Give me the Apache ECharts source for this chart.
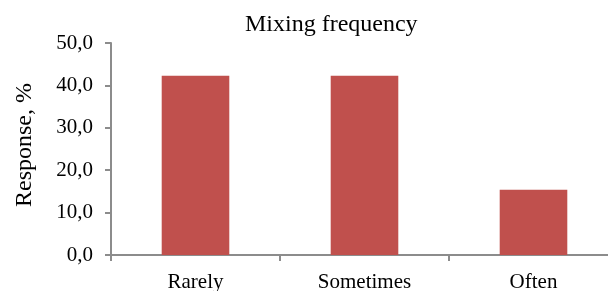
<!DOCTYPE html>
<html>
<head>
<meta charset="utf-8">
<script src="https://cdn.jsdelivr.net/npm/echarts@6/dist/echarts.min.js"></script>
<style>html,body{margin:0;padding:0;background:#fff}#c{width:608px;height:291px}</style>
</head>
<body>
<div id="c"></div>
<script>
var categories = ['Rarely', 'Sometimes', 'Often'];
var responses = [42.3, 42.3, 15.4];
var titleText = 'Mixing frequency';
var yAxisName = 'Response, %';

var font = '"Liberation Serif", "Times New Roman", serif';
var chart = echarts.init(document.getElementById('c'), null, {renderer: 'canvas'});
chart.setOption({
  animation: false,
  backgroundColor: '#fff',
  title: {
    text: titleText, left: 245, top: 13, padding: 0,
    textStyle: {fontFamily: font, fontWeight: 'normal', fontSize: 24, color: '#000'}
  },
  grid: {left: 111, width: 507, top: 43, bottom: 36, containLabel: false, outerBoundsMode: 'none'},
  xAxis: {
    type: 'category', data: categories,
    axisLine: {lineStyle: {color: '#8c8c8c', width: 2}},
    axisTick: {show: true, length: 6, lineStyle: {color: '#8c8c8c', width: 2}},
    axisLabel: {fontFamily: font, fontSize: 21, color: '#000', margin: 17}
  },
  yAxis: {
    type: 'value', min: 0, max: 50, interval: 10,
    name: yAxisName, nameLocation: 'middle', nameGap: 74, nameRotate: 90,
    nameTextStyle: {fontFamily: font, fontSize: 24, color: '#000', padding: [0, 0, 0, 8]},
    axisLine: {show: true, lineStyle: {color: '#8c8c8c', width: 2}},
    axisTick: {show: true, length: 6, lineStyle: {color: '#8c8c8c', width: 2}},
    splitLine: {show: false},
    axisLabel: {fontFamily: font, fontSize: 21, color: '#000', margin: 18,
      formatter: function (v) { return v.toFixed(1).replace('.', ','); }}
  },
  series: [{
    type: 'bar', data: responses, barWidth: '40%',
    itemStyle: {color: '#C0504D'}
  }]
});
</script>
</body>
</html>
